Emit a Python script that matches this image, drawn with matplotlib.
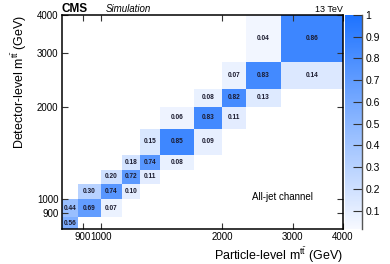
import numpy as np
import matplotlib
matplotlib.use("Agg")
import matplotlib.pyplot as plt
from matplotlib.colors import LinearSegmentedColormap

plt.rcParams['font.family'] = ['Liberation Sans', 'DejaVu Sans']
plt.rcParams['mathtext.fontset'] = 'custom'
plt.rcParams['mathtext.rm'] = 'Liberation Sans'
plt.rcParams['mathtext.it'] = 'Liberation Sans:italic'

# bin edges (GeV), same for particle and detector level
bin_edges = [800, 875, 1000, 1125, 1250, 1400, 1700, 2000, 2300, 2800, 4000]

# (particle-level column index, detector-level row index, value)
cell_col = [0, 0, 1, 2, 1, 2, 3, 2, 3, 4, 3, 4, 5, 4, 5, 6, 5, 6, 7, 6, 7, 8, 7, 8, 9, 8, 9]
cell_row = [0, 1, 1, 1, 2, 2, 2, 3, 3, 3, 4, 4, 4, 5, 5, 5, 6, 6, 6, 7, 7, 7, 8, 8, 8, 9, 9]
cell_val = [0.56, 0.44, 0.69, 0.07, 0.30, 0.74, 0.10, 0.20, 0.72, 0.11,
            0.18, 0.74, 0.08, 0.15, 0.85, 0.09, 0.06, 0.83, 0.11,
            0.08, 0.82, 0.13, 0.07, 0.83, 0.14, 0.04, 0.86]

tick_vals = [900, 1000, 2000, 3000, 4000]
tick_labels = ['900', '1000', '2000', '3000', '4000']
cbar_ticks = [0.1, 0.2, 0.3, 0.4, 0.5, 0.6, 0.7, 0.8, 0.9, 1.0]
cbar_labels = ['0.1', '0.2', '0.3', '0.4', '0.5', '0.6', '0.7', '0.8', '0.9', '1']

n = len(bin_edges) - 1
Z = np.full((n, n), np.nan)
for c, r, v in zip(cell_col, cell_row, cell_val):
    Z[r, c] = v
Zm = np.ma.masked_invalid(Z)

cmap = LinearSegmentedColormap.from_list('rb', ['#f7f9ff', '#1e73ff'])

fig = plt.figure(figsize=(3.9, 2.64), dpi=100)
ax = fig.add_axes([62/390, 1-229/264, (343-62)/390, (229-15)/264])
cax = fig.add_axes([345/390, 1-229/264, 17.5/390, (229-15)/264])

edges = np.array(bin_edges, dtype=float)
mesh = ax.pcolormesh(edges, edges, Zm, cmap=cmap, vmin=0.015, vmax=1.0, shading='flat')
ax.set_xscale('log')
ax.set_yscale('log')
ax.set_xlim(bin_edges[0], bin_edges[-1])
ax.set_ylim(bin_edges[0], bin_edges[-1])
ax.minorticks_off()
ax.set_xticks(tick_vals)
ax.set_xticklabels(tick_labels)
ax.set_yticks(tick_vals)
ax.set_yticklabels(tick_labels)
ax.minorticks_off()
ax.tick_params(which='both', direction='in', top=True, right=True, length=4.5,
               width=0.8, labelsize=7, pad=2.5, color='#333333')

for c, r, v in zip(cell_col, cell_row, cell_val):
    xc = np.sqrt(edges[c] * edges[c+1])
    yc = np.sqrt(edges[r] * edges[r+1])
    ax.text(xc, yc, f'{v:.2f}', ha='center', va='center', fontsize=4.7,
            fontweight='bold', color='#1a1a2e')

for s in ax.spines.values():
    s.set_linewidth(1.1)

ax.set_xlabel(r'Particle-level m$^{\mathrm{t\bar{t}}}$ (GeV)', fontsize=9, loc='right', labelpad=2)
ax.set_ylabel(r'Detector-level m$^{\mathrm{t\bar{t}}}$ (GeV)', fontsize=9, loc='top', labelpad=6)

ax.text(2370, 1020, 'All-jet channel', fontsize=7, ha='left', va='center')

fig.text(62/390, 1-9/264, 'CMS', fontsize=8.5, fontweight='bold', ha='left', va='center')
fig.text(106/390, 1-9/264, 'Simulation', fontsize=7, style='italic', ha='left', va='center')
fig.text(343/390, 1-9/264, '13 TeV', fontsize=6.5, ha='right', va='center')

cb = fig.colorbar(mesh, cax=cax)
cb.outline.set_visible(False)
cb.set_ticks(cbar_ticks)
cb.set_ticklabels(cbar_labels)
cax.minorticks_off()
cax.tick_params(direction='in', length=6.5, width=0.8, labelsize=7.5, pad=2, color='#333333')
cax.axvline(1.0, color='#555555', lw=1.0, clip_on=False)

fig.savefig('out.png', dpi=100)
